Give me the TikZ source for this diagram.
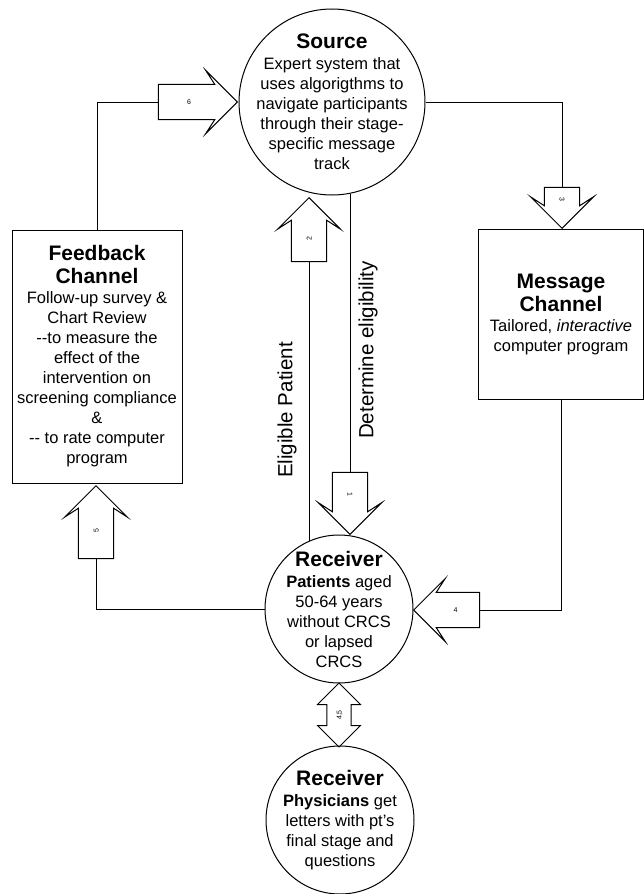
\documentclass[tikz,border=0pt]{standalone}
\usepackage{fontspec}
\setmainfont{Liberation Sans}
\usetikzlibrary{shapes.arrows}

\newcommand{\ttlfont}{\fontsize{21}{23}\selectfont\bfseries}

\begin{document}
\begin{tikzpicture}[x=1pt,y=-1pt,line width=1pt,
    every node/.style={align=center,font=\fontsize{16.5}{20}\selectfont},
    ring/.style={draw,circle,inner sep=0pt,minimum size=#1},
    chan/.style={draw,rectangle,inner sep=0pt},
    fatarr/.style={draw,single arrow,single arrow head indent=9pt,minimum height=#1,
      minimum width=63pt,inner xsep=2pt,inner ysep=6pt,text height=5pt,text depth=0pt,
      font=\fontsize{7}{8}\selectfont},
    side/.style={font=\fontsize{20.5}{22}\selectfont,rotate=90}]
  \useasboundingbox (0,0) rectangle (644,894);
  % nodes
  \node[ring=186pt] (source) at (332,102) {};
  \node (source-txt) at (source) {{\ttlfont Source}\\[1pt]
    Expert system that\\uses algorigthms to\\navigate participants\\through their stage-\\specific message\\track};
  \node[chan,minimum width=165pt,minimum height=170pt] (msg) at (561,314) {};
  \node (msg-txt) at (msg) {{\ttlfont Message}\\[3pt]{\ttlfont Channel}\\
    Tailored, \textit{interactive}\\computer program};
  \node[chan,minimum width=170pt,minimum height=253pt] (fb) at (97,356.5) {};
  \node (fb-txt) at (fb) {{\ttlfont Feedback}\\[3pt]{\ttlfont Channel}\\
    Follow-up survey \&\\Chart Review\\ -{}-to measure the\\effect of the\\intervention on\\
    screening compliance\\\&\\-{}- to rate computer\\program};
  \node[ring=148pt] (pat) at (339,609) {};
  \node (pat-txt) at (pat) {{\ttlfont Receiver}\\[1pt]
    \textbf{Patients} aged\\50-64 years\\without CRCS\\or lapsed\\CRCS};
  \node[ring=148pt] (phys) at (340,820) {};
  \node (phys-txt) at (phys) {{\ttlfont Receiver}\\[1pt]
    \textbf{Physicians} get\\letters with pt's\\final stage and\\questions};
  % block arrows
  \node[fatarr=79pt,anchor=tip] (a6) at (238,102) {6};
  \node[fatarr=41pt,rotate=-90,anchor=tip] (a3) at (562,229) {3};
  \node[fatarr=64pt,rotate=90,anchor=tip] (a2) at (309,197) {2};
  \node[fatarr=62pt,rotate=-90,anchor=tip] (a1) at (350,535) {1};
  \node[fatarr=73pt,rotate=90,anchor=tip] (a5) at (96,485) {5};
  \node[fatarr=66pt,shape border rotate=180,anchor=tip] (a4) at (413,610) {4};
  \node[draw,double arrow,rotate=90,minimum height=64pt,minimum width=43pt,inner xsep=2pt,
    inner ysep=6pt,text height=5pt,text depth=0pt,font=\fontsize{7}{8}\selectfont]
    (a45) at (339,715) {4,5};
  % connectors
  \draw (source.east) -| (a3.tail);
  \draw (msg.south) |- (a4.tail);
  \draw (pat.west) -| (a5.tail);
  \draw (fb.north) |- (a6.tail);
  \draw (a1.tail) -- (a1.tail |- source.-79);
  \draw (a2.tail) -- (a2.tail |- pat.114);
  \node[side] (elig) at (287,410) {Eligible Patient};
  \node[side] (determ) at (368,350) {Determine eligibility};
\end{tikzpicture}
\end{document}
